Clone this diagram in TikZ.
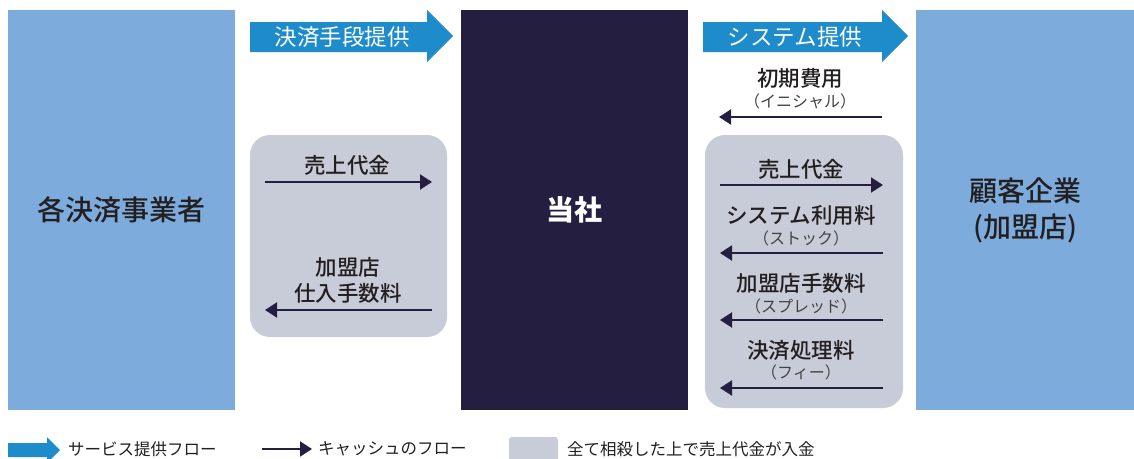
\documentclass[tikz,border=0pt]{standalone}
\usepackage{fontspec}
\setmainfont{Noto Sans CJK JP}
\newfontfamily\jpmed{Noto Sans CJK JP Medium}
\usetikzlibrary{arrows.meta}
\definecolor{lblue}{HTML}{7DACDC}
\definecolor{navy}{HTML}{241F40}
\definecolor{fblue}{HTML}{1E8BCB}
\definecolor{lgray}{HTML}{C8CCD8}
\definecolor{txt}{HTML}{231F20}
\begin{document}
\begin{tikzpicture}[x=1pt,y=-1pt,
  bigbox/.style={rectangle, inner sep=0pt, minimum height=400pt, text=txt,
    font=\fontsize{28}{36}\jpmed, align=center},
  flowlbl/.style={text=white, font=\fontsize{22.5}{24}\selectfont, inner sep=0pt},
  cashlbl/.style={text=txt, font=\fontsize{21.5}{26}\jpmed, align=center, inner sep=0pt},
  sublbl/.style={text=txt!85, font=\fontsize{16}{18}\selectfont, inner sep=0pt},
  cash/.style={draw=navy, line width=2pt, -{Triangle[length=12pt,width=15pt]}},
  panel/.style={fill=lgray, rounded corners=20pt},
  legtxt/.style={text=txt, font=\fontsize{16.5}{20}\selectfont, anchor=west, inner sep=0pt}
]
\useasboundingbox (0,0) rectangle (1134,458);
\clip (0,0) rectangle (1134,458);

% main boxes
\node[bigbox, fill=lblue, minimum width=227pt] (prov) at (121.5,210) {各決済事業者};
\node[bigbox, fill=navy, minimum width=227pt, text=white, font=\fontsize{28}{36}\bfseries] (us) at (574.5,210) {当社};
\node[bigbox, fill=lblue, minimum width=218pt] (cust) at (1025,210) {顧客企業\\(加盟店)};

% service flow arrows
\fill[fblue] (250,22) -- (427,22) -- (427,10) -- (453,36) -- (427,62) -- (427,52) -- (250,52) -- cycle;
\node[flowlbl] (f1) at (342,37) {決済手段提供};
\fill[fblue] (703,22) -- (882,22) -- (882,10) -- (908,36) -- (882,62) -- (882,52) -- (703,52) -- cycle;
\node[flowlbl] (f2) at (795,37) {システム提供};

% panels
\fill[panel] (250,135) rectangle (447,337);
\fill[panel] (705,135) rectangle (903,408);

% left panel
\node[cashlbl] (l1) at (347,165) {売上代金};
\coordinate (l1a) at (265,182); \coordinate (l1b) at (432,182);
\draw[cash] (l1a) -- (l1b);
\node[cashlbl] (l2) at (348,280) {加盟店\\仕入手数料};
\coordinate (l2a) at (432,310); \coordinate (l2b) at (265,310);
\draw[cash] (l2a) -- (l2b);

% right side
\node[cashlbl] (r0) at (800,78) {初期費用};
\node[sublbl] (r0s) at (800,101) {（イニシャル）};
\coordinate (r0a) at (882,117); \coordinate (r0b) at (719,117);
\draw[cash] (r0a) -- (r0b);

\node[cashlbl] (r1) at (801,169) {売上代金};
\coordinate (r1a) at (720,185); \coordinate (r1b) at (883,185);
\draw[cash] (r1a) -- (r1b);

\node[cashlbl] (r2) at (801,215) {システム利用料};
\node[sublbl] (r2s) at (801,238) {（ストック）};
\coordinate (r2a) at (883,253); \coordinate (r2b) at (720,253);
\draw[cash] (r2a) -- (r2b);

\node[cashlbl] (r3) at (801,283) {加盟店手数料};
\node[sublbl] (r3s) at (801,306) {（スプレッド）};
\coordinate (r3a) at (883,320); \coordinate (r3b) at (720,320);
\draw[cash] (r3a) -- (r3b);

\node[cashlbl] (r4) at (801,350) {決済処理料};
\node[sublbl] (r4s) at (801,372) {（フィー）};
\coordinate (r4a) at (883,388); \coordinate (r4b) at (720,388);
\draw[cash] (r4a) -- (r4b);

% legend
\fill[fblue] (8,443) -- (47,443) -- (47,437) -- (60,450) -- (47,463) -- (47,457) -- (8,457) -- cycle;
\node[legtxt] (lg1) at (68,449) {サービス提供フロー};
\coordinate (lg2a) at (262,449); \coordinate (lg2b) at (312,449);
\draw[cash] (lg2a) -- (lg2b);
\node[legtxt] (lg2) at (318,449) {キャッシュのフロー};
\fill[lgray, rounded corners=3pt] (509,437) rectangle (558,470);
\node[legtxt] (lg3) at (567,449) {全て相殺した上で売上代金が入金};
\end{tikzpicture}
\end{document}
